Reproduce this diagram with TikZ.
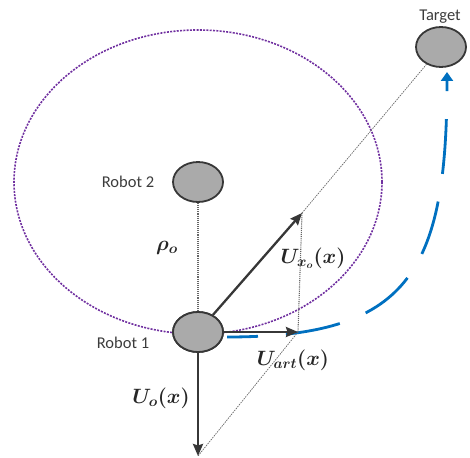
\documentclass[tikz,border=0pt]{standalone}
\usepackage[no-math]{fontspec}
\setmainfont{Carlito}
\usepackage{bm}
\usetikzlibrary{shapes.geometric,arrows.meta}
\definecolor{bodygray}{RGB}{170,170,170}
\definecolor{edgegray}{RGB}{55,55,55}
\definecolor{txtgray}{RGB}{60,60,60}
\definecolor{zonepurple}{RGB}{112,48,160}
\definecolor{pathblue}{RGB}{0,112,192}
\tikzset{
	robot/.style={ellipse,draw=edgegray,fill=bodygray,line width=1.8pt,minimum width=50pt,minimum height=40pt,inner sep=0pt},
	lbl/.style={text=txtgray,font=\fontsize{16.5}{19}\selectfont},
	mlbl/.style={text=black!85,font=\fontsize{19.5}{22}\selectfont},
	vec/.style={draw=edgegray,line width=2.3pt,-{Stealth[length=12pt,width=10pt,inset=1.5pt]}},
	guide/.style={draw=gray!80!black,line width=1.1pt,densely dotted},
	proj/.style={draw=gray!80!black,line width=0.7pt,dash pattern=on 1.5pt off 1pt},
}
\begin{document}
\begin{tikzpicture}[x=1pt,y=-1pt,line join=round]
	\useasboundingbox (0,0) rectangle (470,457);
	% robots and target
	\node[robot] (robotB) at (198,182) {};
	\node[robot] (robotA) at (198,332) {};
	\node[robot] (target) at (441,47) {};
	\path
	(302,213) coordinate (tipX)
	(298,332) coordinate (tipArt)
	(198,456) coordinate (tipO)
	(227,337) coordinate (pathS)
	(447,72) coordinate (pathE)
	;
	% safety zone round robot 2
	\draw[zonepurple,line width=1.6pt,dash pattern=on 2pt off 1.3pt] (robotB.center) ellipse [x radius=184pt,y radius=152pt];
	\draw[pathblue,line width=2.8pt,dash pattern=on 55pt off 28pt,dash phase=24pt,-{Triangle[length=9pt,width=12pt]}]
	(pathS) .. controls (407,337) and (447,275) .. (pathE);
	\foreach \a / \b in {robotB/robotA,tipX/tipArt}
	\draw[guide] (\a)--(\b);
	\foreach \a / \b in {target/tipX,tipArt/tipO}
	\draw[proj] (\a)--(\b);
	\foreach \t in {tipX,tipArt,tipO}
	\draw[vec] (robotA)--(\t);
	\node[robot] at (robotA) {};
	% labels
	\node[lbl] (nameB) at (128,182) {Robot 2};
	\node[lbl] (nameA) at (123,343) {Robot 1};
	\node[lbl] (nameT) at (440,17) {Target};
	\node[mlbl] (lblRho) at (167,248) {$\bm{\rho_o}$};
	\node[mlbl] (lblX) at (313,258) {$\bm{U_{x_o}(x)}$};
	\node[mlbl] (lblArt) at (293,360) {$\bm{U_{art}(x)}$};
	\node[mlbl] (lblO) at (161,398) {$\bm{U_o(x)}$};
\end{tikzpicture}
\end{document}
